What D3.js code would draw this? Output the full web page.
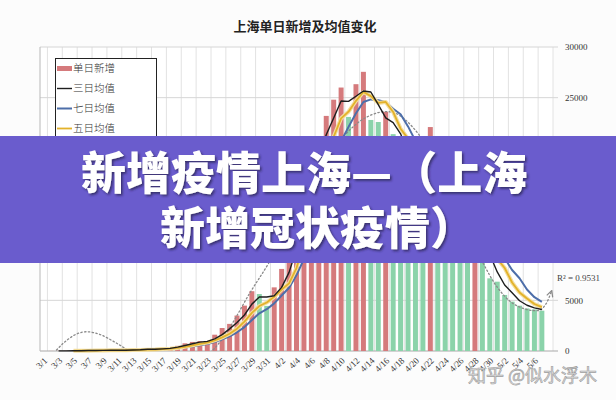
<!DOCTYPE html>
<html><head><meta charset="utf-8">
<script src="https://cdn.jsdelivr.net/npm/d3@7/dist/d3.min.js"></script>
<style>
html,body{margin:0;padding:0;background:#fcfcfc;}
svg{display:block;}
</style></head><body>
<svg id="c" width="616" height="400"></svg>
<script>
// ---------- data ----------
const dates = ["3/1","3/2","3/3","3/4","3/5","3/6","3/7","3/8","3/9","3/10","3/11","3/12","3/13","3/14","3/15","3/16","3/17","3/18","3/19","3/20","3/21","3/22","3/23","3/24","3/25","3/26","3/27","3/28","3/29","3/30","3/31",
"4/1","4/2","4/3","4/4","4/5","4/6","4/7","4/8","4/9","4/10","4/11","4/12","4/13","4/14","4/15","4/16","4/17","4/18","4/19","4/20","4/21","4/22","4/23","4/24","4/25","4/26","4/27","4/28","4/29","4/30",
"5/1","5/2","5/3","5/4","5/5","5/6","5/7"];
const dailyNew = [2,8,16,19,28,48,54,65,80,75,83,65,169,139,202,158,260,374,509,758,896,981,983,1609,2269,2676,3500,4477,5900,5620,4450,
6280,8100,8900,13200,16900,19800,21000,23200,24800,26000,23100,26330,27550,22800,22600,23600,21400,19300,17900,17550,16900,22100,20450,18480,16300,12950,10130,12000,9400,7170,
6840,5530,4870,4470,4200,4100,3980];
// three-day average, from 3/3
const avg3 = [9,14,21,32,43,56,66,73,79,74,106,124,170,166,207,264,381,547,721,878,953,1191,1620,2185,2815,3551,4626,5332,5323,5450,6277,7760,10067,13000,16633,19233,21333,23000,24667,24633,25143,25660,25560,24317,23000,22533,21433,19533,18250,17450,18850,19817,20343,18410,15910,13127,11693,10510,9523,7803,6513,5747,4957,4513,4257,4093];
// five-day average, from 3/5
const avg5 = [15,24,33,43,55,64,71,74,94,106,132,147,186,227,301,412,559,704,825,1045,1348,1704,2207,2906,3764,4435,4789,5345,6070,6670,8186,10676,13380,15960,18820,21140,22960,23620,24686,25556,25156,24476,24576,23590,21940,20960,19950,18610,18750,18980,19096,18846,18056,15662,13972,12156,10330,9108,8188,6762,5776,5182,4634,4324];
// seven-day average, from 3/7
const avg7 = [25,34,44,53,62,67,84,97,116,127,154,195,259,343,451,562,680,873,1144,1453,1845,2356,3059,3722,4127,4700,5475,6247,7493,9064,11090,13454,15871,18257,20700,22114,23461,24569,24826,24740,24569,23911,23369,22164,20736,19893,19821,19371,18954,18526,17819,16759,16059,14244,12347,10684,9146,7991,7183,6069,5311,4856];
// polynomial trendline (day position, value)
const trendDay   = [0, 1.6, 3, 4.5, 5.8, 7.5, 9.5, 11.5, 14, 17, 20, 22.6, 25, 27.7, 30.2, 33, 36, 38.5, 40.75, 43, 45.5, 47.5, 50.2, 53, 56, 59, 61, 62.9, 64.5, 65.8, 66.8, 67.6, 68.3];
const trendValue = [-1300, 0, 1000, 1700, 1900, 1650, 900, 0, -1100, -1500, -1000, 0, 2300, 5700, 8600, 12300, 16300, 19300, 21500, 22900, 23600, 23400, 21600, 18200, 13200, 8800, 6300, 4800, 4200, 4000, 4050, 4700, 5900];
const yTicks = [0, 5000, 10000, 15000, 20000, 25000, 30000];
const legendLabels = ["单日新增", "三日均值", "七日均值", "五日均值"];
const chartTitle = "上海单日新增及均值变化";
const r2Label = "R² = 0.9531";
const bannerLine1 = "新增疫情上海—（上海";
const bannerLine2 = "新增冠状疫情）";
const watermark = "知乎 @似水浮木";

// ---------- layout ----------
const plot = {l: 40, r: 553, t: 47, b: 351};
const banner = {y: 136, h: 127};
const C = {red: "#d57a7c", green: "#8bd3aa", black: "#1e1e1e", blue: "#4d6ea9", gold: "#e3b22a", goldHalo: "#f3dea0", trend: "#8a8a8a"};
const serif = "'Liberation Serif','DejaVu Serif',serif";
const cjk = "'Noto Sans CJK SC','Noto Sans',sans-serif";

const svg = d3.select("#c");
const defs = svg.append("defs");
defs.append("clipPath").attr("id", "plotClip").append("rect")
  .attr("x", plot.l).attr("y", plot.t).attr("width", plot.r - plot.l + 6).attr("height", plot.b - plot.t);
defs.append("marker").attr("id", "arr").attr("viewBox", "0 0 10 10").attr("refX", 8).attr("refY", 5)
  .attr("markerWidth", 6).attr("markerHeight", 6).attr("orient", "auto")
  .append("path").attr("d", "M1,1 L9,5 L1,9").attr("fill", "none").attr("stroke", C.trend).attr("stroke-width", 1.6);
const sh = defs.append("filter").attr("id", "txtShadow").attr("x", "-5%").attr("y", "-20%").attr("width", "110%").attr("height", "140%");
sh.append("feDropShadow").attr("dx", 1.6).attr("dy", 1.8).attr("stdDeviation", 1.1).attr("flood-color", "#2a2450").attr("flood-opacity", 0.75);

svg.append("rect").attr("width", 616).attr("height", 400).attr("fill", "#fcfcfc");
svg.append("rect").attr("x", plot.l).attr("y", plot.t).attr("width", plot.r - plot.l).attr("height", plot.b - plot.t).attr("fill", "#ffffff");

const cats = dates.concat(["5/8"]);
const x = d3.scaleBand().domain(cats).range([plot.l, plot.r]).paddingInner(0.33).paddingOuter(0.165);
const xc = d => x(d) + x.bandwidth() / 2;
const xi = d3.scaleLinear().domain([-0.5, cats.length - 0.5]).range([plot.l, plot.r]);
const y = d3.scaleLinear().domain([0, 30000]).range([plot.b, plot.t]);

// vertical gridlines
const vg = d3.range(0, cats.length, 2).map(i => i + 0.5);
svg.append("g").selectAll("line").data(vg).join("line")
  .attr("x1", d => xi(d)).attr("x2", d => xi(d)).attr("y1", plot.t).attr("y2", plot.b)
  .attr("stroke", "#e2e2e2").attr("stroke-width", 1);
// horizontal gridlines
svg.append("g").selectAll("line").data(yTicks).join("line")
  .attr("x1", plot.l).attr("x2", plot.r + 5).attr("y1", d => y(d)).attr("y2", d => y(d))
  .attr("stroke", d => d === 0 ? "#a8a8a8" : "#d6d6d6").attr("stroke-width", 1);
svg.append("line").attr("x1", plot.l).attr("x2", plot.l).attr("y1", plot.t).attr("y2", plot.b)
  .attr("stroke", "#b8b8b8");

// bars
svg.append("g").selectAll("rect").data(dailyNew).join("rect")
  .attr("x", (d, i) => x(dates[i])).attr("width", x.bandwidth())
  .attr("y", d => y(d)).attr("height", d => plot.b - y(d))
  .attr("fill", (d, i) => (i > 0 && d < dailyNew[i - 1]) ? C.green : C.red);

// trendline
const tLine = d3.line().x((d, i) => xi(trendDay[i])).y(d => y(d)).curve(d3.curveCatmullRom.alpha(0.5));
svg.append("path").attr("d", tLine(trendValue)).attr("clip-path", "url(#plotClip)")
  .attr("fill", "none").attr("stroke", C.trend).attr("stroke-width", 1.3)
  .attr("stroke-dasharray", "1.4,2.4").attr("stroke-linecap", "round").attr("marker-end", "url(#arr)");

// moving averages
function maLine(arr, off) {
  return d3.line().x((d, i) => xc(dates[i + off])).y(d => y(d))(arr);
}
svg.append("path").attr("d", maLine(avg7, 6)).attr("fill", "none").attr("stroke", C.blue).attr("stroke-width", 2).attr("stroke-linejoin", "round");
svg.append("path").attr("d", maLine(avg5, 4)).attr("fill", "none").attr("stroke", C.goldHalo).attr("stroke-width", 4).attr("stroke-linejoin", "round");
svg.append("path").attr("d", maLine(avg5, 4)).attr("fill", "none").attr("stroke", C.gold).attr("stroke-width", 1.8).attr("stroke-linejoin", "round");
svg.append("path").attr("d", maLine(avg3, 2)).attr("fill", "none").attr("stroke", C.black).attr("stroke-width", 1.4).attr("stroke-linejoin", "round");

// x axis labels
const xAxis = d3.axisBottom(x).tickValues(dates.filter((d, i) => i % 2 === 0)).tickSize(0);
const gx = svg.append("g").attr("transform", `translate(0,${plot.b})`).call(xAxis);
gx.select(".domain").remove();
gx.selectAll("text").attr("font-family", serif).attr("font-size", 9).attr("fill", "#333")
  .attr("text-anchor", "end").attr("x", 0).attr("y", 0).attr("dy", "0.35em")
  .attr("transform", "translate(2,8) rotate(-45)");

// y axis labels (right) – those under the banner are hidden in the picture
const visibleTicks = yTicks.filter(v => y(v) < banner.y - 4 || y(v) > banner.y + banner.h + 4);
const yAxis = d3.axisRight(y).tickValues(visibleTicks).tickSize(0).tickFormat(d3.format("d"));
const gy = svg.append("g").attr("transform", `translate(562,0)`).call(yAxis);
gy.select(".domain").remove();
gy.selectAll("text").attr("font-family", serif).attr("font-size", 9).attr("fill", "#333").attr("x", 3);

// R squared
svg.append("text").attr("x", 557).attr("y", 281).attr("font-family", serif).attr("font-size", 9)
  .attr("fill", "#444").text(r2Label);

// title
svg.append("text").attr("x", 305).attr("y", 31).attr("text-anchor", "middle").attr("font-family", cjk)
  .attr("font-weight", 700).attr("font-size", 13).attr("fill", "#222").text(chartTitle);

// legend
const lg = svg.append("g");
lg.append("rect").attr("x", 55.5).attr("y", 58.5).attr("width", 101).attr("height", 150)
  .attr("fill", "#ffffff").attr("stroke", "#222").attr("stroke-width", 1);
const swatch = [
  {type: "rect", color: C.red},
  {type: "line", color: C.black, w: 1.4},
  {type: "line", color: C.blue, w: 2},
  {type: "line", color: C.gold, w: 1.8}
];
legendLabels.forEach((lab, i) => {
  const yy = 68.5 + i * 20;
  const s = swatch[i];
  if (s.type === "rect") {
    lg.append("rect").attr("x", 57).attr("y", yy - 2.5).attr("width", 15).attr("height", 5).attr("fill", s.color);
  } else {
    lg.append("line").attr("x1", 57).attr("x2", 72).attr("y1", yy).attr("y2", yy).attr("stroke", s.color).attr("stroke-width", s.w);
  }
  lg.append("text").attr("x", 73).attr("y", yy).attr("dy", "0.36em").attr("font-family", cjk)
    .attr("font-weight", 300).attr("font-size", 10.5).attr("fill", "#333").text(lab);
});

// banner
svg.append("rect").attr("x", 0).attr("y", banner.y).attr("width", 616).attr("height", banner.h).attr("fill", "#6a5ccd");
svg.append("text").attr("x", 81).attr("y", 190).attr("font-family", cjk).attr("font-weight", 900)
  .attr("font-size", 45).attr("fill", "#ffffff").attr("filter", "url(#txtShadow)").text(bannerLine1);
svg.append("text").attr("x", 160).attr("y", 245).attr("font-family", cjk).attr("font-weight", 900)
  .attr("font-size", 45).attr("fill", "#ffffff").attr("filter", "url(#txtShadow)").text(bannerLine2);

// watermark
svg.append("text").attr("x", 468).attr("y", 382).attr("font-family", cjk).attr("font-size", 18)
  .attr("fill", "#dadada").attr("stroke", "#9e9e9e").attr("stroke-width", 0.6).text(watermark);
</script>
</body></html>
